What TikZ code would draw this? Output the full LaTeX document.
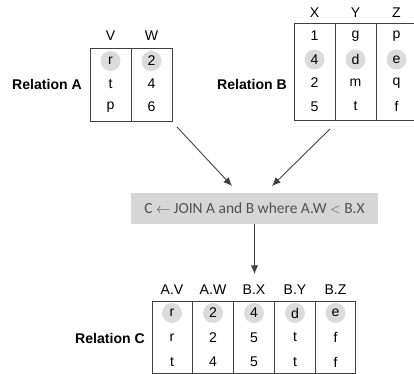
\documentclass[tikz,border=0pt]{standalone}
\usepackage{fontspec}
\setmainfont{Liberation Sans}
\newfontfamily\joinfont{Carlito}
\usetikzlibrary{arrows.meta,backgrounds}
\definecolor{circgray}{gray}{0.86}
\definecolor{boxgray}{gray}{0.84}
\definecolor{textgray}{gray}{0.32}
\definecolor{linegray}{gray}{0.25}

\begin{document}
\begin{tikzpicture}[x=0.03cm, y=-0.03cm,
  cell/.style={inner sep=0pt, font=\fontsize{12}{14}\selectfont},
  rel/.style={inner sep=0pt, font=\fontsize{12}{14}\selectfont\bfseries},
  tab/.style={draw=linegray, line width=0.75pt},
  arr/.style={-{Latex[length=2.6mm,width=2.2mm]}, line width=0.75pt, draw=linegray}]
 \useasboundingbox (0,0) rectangle (414,374);

 % Relation A
 \node[rel] (relA) at (47,84) {Relation A};
 \draw[tab] (90,48) rectangle (172,121);
 \draw[tab] (131,48) -- (131,121);
 \node[cell] (hV) at (110.5,36) {V};
 \node[cell] (hW) at (151.5,36) {W};
 \foreach \t [count=\i] in {r,t,p} \node[cell] (aV\i) at (110.5,{38+23*\i}) {\t};
 \foreach \t [count=\i] in {2,4,6} \node[cell] (aW\i) at (151.5,{38+23*\i}) {\t};

 % Relation B (cut at the right edge)
 \node[rel] (relB) at (252,84) {Relation B};
 \draw[tab] (414,23) -- (294,23) -- (294,120) -- (414,120);
 \draw[tab] (335,23) -- (335,120);
 \draw[tab] (376,23) -- (376,120);
 \node[cell] (hX) at (314.5,13) {X};
 \node[cell] (hY) at (355.5,13) {Y};
 \node[cell] (hZ) at (396.5,13) {Z};
 \foreach \t [count=\i] in {1,4,2,5} \node[cell] (bX\i) at (314.5,{12.5+23.5*\i}) {\t};
 \foreach \t [count=\i] in {g,d,m,t} \node[cell] (bY\i) at (355.5,{12.5+23.5*\i}) {\t};
 \foreach \t [count=\i] in {p,e,q,f} \node[cell] (bZ\i) at (396.5,{12.5+23.5*\i}) {\t};

 % the join
 \node[fill=boxgray, minimum width=247*0.03cm, minimum height=31*0.03cm, inner sep=0pt,
   text=textgray, font=\joinfont\fontsize{13.2}{15}\selectfont] (join) at (254.5,208.5)
   {C $\leftarrow$ JOIN A and B where A.W $<$ B.X};
 \coordinate (fromA) at (177,127);
 \coordinate (tipA) at (232,186);
 \coordinate (fromB) at (330,129);
 \coordinate (tipB) at (272,186);
 \coordinate (tipC) at (254.5,274);
 \draw[arr] (fromA) -- (tipA);
 \draw[arr] (fromB) -- (tipB);
 \draw[arr] (join.south) -- (tipC);

 % Relation C
 \node[rel] (relC) at (110,338) {Relation C};
 \draw[tab] (152,301) rectangle (355,373);
 \foreach \d in {192.5,233.5,274.5,315} \draw[tab] (\d,301) -- (\d,373);
 \foreach \h/\x [count=\i] in {A.V/172,A.W/213,B.X/254,B.Y/295,B.Z/335.5}
   \node[cell] (hC\i) at (\x,290) {\h};
 \foreach \t [count=\i] in {r,r,t} \node[cell] (cV\i) at (172,{288.5+24.5*\i}) {\t};
 \foreach \t [count=\i] in {2,2,4} \node[cell] (cW\i) at (213,{288.5+24.5*\i}) {\t};
 \foreach \t [count=\i] in {4,5,5} \node[cell] (cX\i) at (254,{288.5+24.5*\i}) {\t};
 \foreach \t [count=\i] in {d,t,t} \node[cell] (cY\i) at (295,{288.5+24.5*\i}) {\t};
 \foreach \t [count=\i] in {e,f,f} \node[cell] (cZ\i) at (335.5,{288.5+24.5*\i}) {\t};

 % the gray dots behind the matching values
 \begin{scope}[on background layer]
 \foreach \n in {aV1,aW1,bX2,bY2,bZ2,cV1,cW1,cX1,cY1,cZ1}
   \fill[circgray] (\n) circle (0.3cm);
 \end{scope}
\end{tikzpicture}
\end{document}
